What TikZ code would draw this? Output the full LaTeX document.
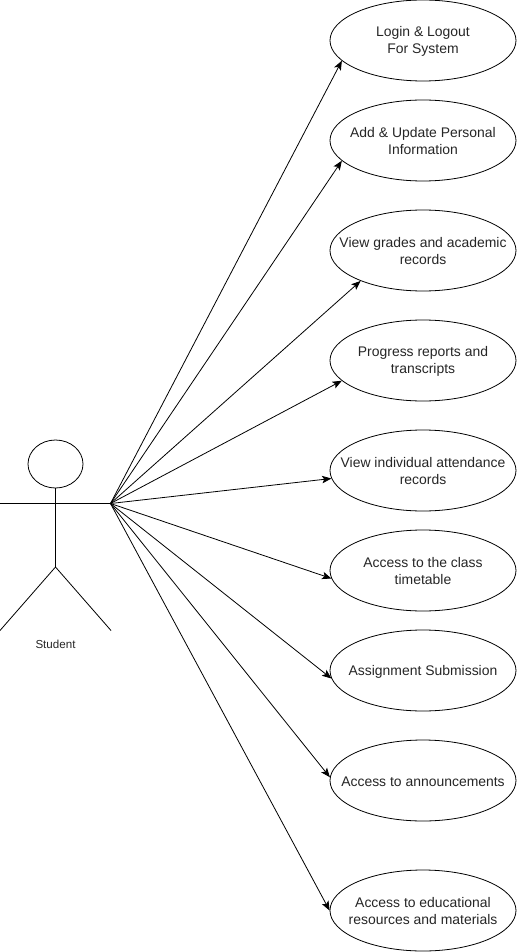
\documentclass[tikz,border=0pt]{standalone}
\usepackage{fontspec}
\setmainfont{Liberation Sans}
\usetikzlibrary{shapes.geometric,arrows.meta}
\newdimen\u
\u=0.75pt
\newcommand{\ucfont}{\fontsize{10.45pt}{12.75pt}\selectfont}
\tikzset{
  usecase/.style={draw,ellipse,minimum width=186\u,minimum height=81\u,inner sep=0pt,line width=0.6pt,fill=white,
    label={[align=center,font=\ucfont,inner sep=0pt,text=black!85,yshift=-0.75pt]center:#1}},
  conn/.style={line width=0.6pt,-{Stealth[length=7pt,width=5.6pt,inset=1.6pt]}},
  stick/.style={line width=0.6pt}
}
\begin{document}
\begin{tikzpicture}[x=0.75pt,y=-0.75pt]
\useasboundingbox (0,0) rectangle (517,952);
\node[usecase={Login \& Logout\\For System}] (a) at (423,40.5) {};
\node[usecase={Add \& Update Personal\\Information}] (b) at (423,140.5) {};
\node[usecase={View grades and academic\\records}] (c) at (423,250.5) {};
\node[usecase={Progress reports and\\transcripts}] (d) at (423,360.5) {};
\node[usecase={View individual attendance\\records}] (e) at (423,470.5) {};
\node[usecase={Access to the class\\timetable}] (f) at (423,570.5) {};
\node[usecase={Assignment Submission}] (g) at (423,670.5) {};
\node[usecase={Access to announcements}] (h) at (423,780.5) {};
\node[usecase={Access to educational\\resources and materials}] (i) at (423,910.5) {};
\node[draw,ellipse,minimum width=55\u,minimum height=48\u,inner sep=0pt,line width=0.6pt] (head) at (55.5,464) {};
\coordinate (hip) at (55.5,567);
\coordinate (lf) at (0,630.5);
\coordinate (rf) at (111,630.5);
\coordinate (la) at (0,503.5);
\coordinate (ra) at (110.5,503.5);
\draw[stick] (head.south) -- (hip);
\draw[stick] (la) -- (ra);
\draw[stick] (lf) -- (hip) -- (rf);
\node[font=\fontsize{8.7pt}{10pt}\selectfont,inner sep=0pt,text=black!85] (lab) at (55.5,644) {Student};
\draw[conn] (ra) -- (a.194.5);
\draw[conn] (ra) -- (b.194.5);
\draw[conn] (ra) -- (c.206);
\draw[conn] (ra) -- (d.194.5);
\draw[conn] (ra) -- (e.185.8);
\draw[conn] (ra) -- (f.185);
\draw[conn] (ra) -- (g.185.5);
\draw[conn] (ra) -- (h.178.8);
\draw[conn] (ra) -- (i.180);
\end{tikzpicture}
\end{document}
